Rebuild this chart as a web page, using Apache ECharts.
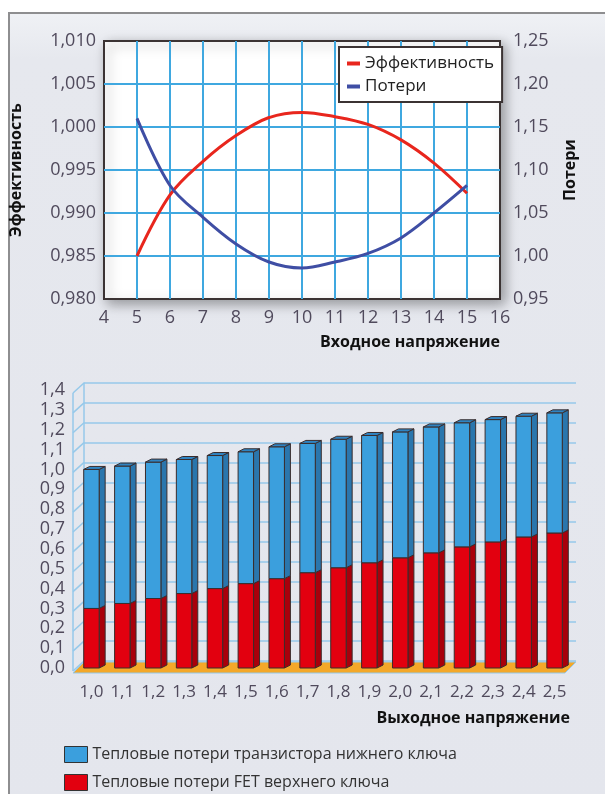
<!DOCTYPE html>
<html>
<head>
<meta charset="utf-8">
<script src="https://cdn.jsdelivr.net/npm/echarts@6/dist/echarts.min.js"></script>
<style>
  html, body { margin: 0; padding: 0; background: #fff; width: 605px; height: 794px; overflow: hidden; }
  #panel { position: absolute; left: 8px; top: 12px; width: 610px; height: 800px; box-sizing: border-box;
           border: 2px solid #8e8e90; background: linear-gradient(#eff1f5 0px, #e6e8ee 45px, #e4e6ed 100%); }
  #chart { position: absolute; left: 0; top: 0; width: 605px; height: 794px; }
</style>
</head>
<body>
<div id="panel"></div>
<div id="chart"></div>
<script>
// Upper chart: efficiency and losses versus input voltage
const inputVoltage = [5, 6, 7, 8, 9, 10, 11, 12, 13, 14, 15];
const efficiency   = [0.9850, 0.9921, 0.9960, 0.9990, 1.0011, 1.0017, 1.0012, 1.0003, 0.9985, 0.9958, 0.9923];
const losses       = [1.160, 1.082, 1.045, 1.014, 0.993, 0.986, 0.993, 1.003, 1.021, 1.050, 1.082];

// Lower chart: thermal losses of the two switches versus output voltage
const outputVoltage      = ['1,0', '1,1', '1,2', '1,3', '1,4', '1,5', '1,6', '1,7',
                            '1,8', '1,9', '2,0', '2,1', '2,2', '2,3', '2,4', '2,5'];
const highSideFetLoss    = [0.300, 0.325, 0.350, 0.375, 0.400, 0.425, 0.450, 0.480,
                            0.505, 0.530, 0.555, 0.580, 0.610, 0.635, 0.660, 0.680];
const lowSideLoss        = [0.700, 0.692, 0.687, 0.675, 0.670, 0.664, 0.664, 0.651,
                            0.647, 0.641, 0.634, 0.634, 0.625, 0.616, 0.608, 0.605];
const lossTicks          = [0, 0.1, 0.2, 0.3, 0.4, 0.5, 0.6, 0.7, 0.8, 0.9, 1.0, 1.1, 1.2, 1.3, 1.4];

const FONT = '"Open Sans", "Noto Sans", sans-serif';
const LABEL_COLOR = '#504a5c';
const GRID_BLUE = '#3fa8e0';
const WALL_BLUE = '#96c9ea';
const EDGE = '#3a2c2c';
const comma = (v, d) => v.toFixed(d).replace('.', ',');

// 3D depth of the bars and of the side wall
const BAR_DX = 6, BAR_DY = -3;
const WALL_DX = -11, WALL_DY = 10;

function makeBox(front, side, top, withTop) {
  return function (params, api) {
    const i = api.value(0);
    const pb = api.coord([i, api.value(1)]);
    const pt = api.coord([i, api.value(2)]);
    const w = api.size([1, 0])[0] * 0.5;
    const x0 = pb[0] - w / 2, x1 = pb[0] + w / 2;
    const children = [
      { type: 'polygon',
        shape: { points: [[x1, pt[1]], [x1 + BAR_DX, pt[1] + BAR_DY], [x1 + BAR_DX, pb[1] + BAR_DY], [x1, pb[1]]] },
        style: { fill: side, stroke: EDGE, lineWidth: 1 } },
      { type: 'rect', shape: { x: x0, y: pt[1], width: w, height: pb[1] - pt[1] },
        style: { fill: front, stroke: EDGE, lineWidth: 1 } }
    ];
    if (withTop) {
      children.push({ type: 'polygon',
        shape: { points: [[x0, pt[1]], [x0 + BAR_DX, pt[1] + BAR_DY], [x1 + BAR_DX, pt[1] + BAR_DY], [x1, pt[1]]] },
        style: { fill: top, stroke: EDGE, lineWidth: 1 } });
    }
    return { type: 'group', children };
  };
}

const redData = outputVoltage.map((_, i) => [i, 0, highSideFetLoss[i]]);
const blueData = outputVoltage.map((_, i) => [i, highSideFetLoss[i], highSideFetLoss[i] + lowSideLoss[i]]);

const chart = echarts.init(document.getElementById('chart'), null, { renderer: 'canvas' });

chart.setOption({
  backgroundColor: 'transparent',
  animation: false,
  textStyle: { fontFamily: FONT },
  legend: [
    { data: ['Эффективность', 'Потери'], orient: 'vertical', left: 339, top: 47,
      backgroundColor: '#fff', borderColor: '#3b3333', borderWidth: 2,
      padding: [6, 8, 5, 8], itemGap: 2, itemWidth: 13, itemHeight: 4, icon: 'rect',
      textStyle: { fontSize: 17, color: '#222', fontFamily: FONT, lineHeight: 21 } },
    { data: ['Тепловые потери транзистора нижнего ключа', 'Тепловые потери FET верхнего ключа'],
      orient: 'vertical', left: 64, top: 746, padding: 0, itemGap: 11, itemWidth: 23, itemHeight: 16, icon: 'rect',
      itemStyle: { borderColor: '#333', borderWidth: 1 },
      textStyle: { fontSize: 16, color: '#333', fontFamily: FONT, lineHeight: 17 } }
  ],
  grid: [
    { left: 100, right: 105, top: 41, bottom: 495, show: true, backgroundColor: '#fff',
      borderColor: '#3b3333', borderWidth: 2,
      shadowColor: 'rgba(0,0,0,0.35)', shadowBlur: 12, shadowOffsetX: 4, shadowOffsetY: 4 },
    { left: 76, right: 35, top: 390, bottom: 126 },
    { left: 84, right: 29, top: 383, bottom: 133 }
  ],
  xAxis: [
    { type: 'value', gridIndex: 0, min: 4, max: 16, interval: 1,
      axisLine: { show: false }, axisTick: { show: false },
      splitLine: { show: true, showMinLine: false, showMaxLine: false, lineStyle: { color: GRID_BLUE, width: 2 } },
      axisLabel: { fontSize: 18, color: LABEL_COLOR, margin: 10, fontFamily: FONT },
      name: 'Входное напряжение', nameLocation: 'end', nameGap: 0,
      nameTextStyle: { align: 'right', verticalAlign: 'top', padding: [35, 0, 0, 0],
                       fontSize: 16, fontWeight: 'bold', color: '#111', fontFamily: FONT } },
    { type: 'category', gridIndex: 1, data: outputVoltage,
      axisLine: { show: false }, axisTick: { show: false },
      axisLabel: { fontSize: 17, color: LABEL_COLOR, margin: 16, fontFamily: FONT, interval: 0 },
      name: 'Выходное напряжение', nameLocation: 'end', nameGap: 0,
      nameTextStyle: { align: 'right', verticalAlign: 'top', padding: [42, 0, 0, 0],
                       fontSize: 16, fontWeight: 'bold', color: '#111', fontFamily: FONT } },
    { type: 'value', gridIndex: 2, min: 0, max: 1, show: false }
  ],
  yAxis: [
    { type: 'value', gridIndex: 0, min: 0.98, max: 1.01, interval: 0.005,
      axisLine: { show: false }, axisTick: { show: false },
      splitLine: { show: true, showMinLine: false, showMaxLine: false, lineStyle: { color: GRID_BLUE, width: 2 } },
      axisLabel: { fontSize: 18, color: LABEL_COLOR, margin: 8, fontFamily: FONT, formatter: v => comma(v, 3) },
      name: 'Эффективность', nameLocation: 'middle', nameRotate: 90, nameGap: 80,
      nameTextStyle: { fontSize: 16, fontWeight: 'bold', color: '#111', fontFamily: FONT } },
    { type: 'value', gridIndex: 0, position: 'right', min: 0.95, max: 1.25, interval: 0.05,
      axisLine: { show: false }, axisTick: { show: false }, splitLine: { show: false },
      axisLabel: { fontSize: 18, color: LABEL_COLOR, margin: 13, fontFamily: FONT, formatter: v => comma(v, 2) },
      name: 'Потери', nameLocation: 'middle', nameRotate: 90, nameGap: 62,
      nameTextStyle: { fontSize: 16, fontWeight: 'bold', color: '#111', fontFamily: FONT } },
    { type: 'value', gridIndex: 1, min: 0, max: 1.4, interval: 0.1,
      axisLine: { show: false }, axisTick: { show: false }, splitLine: { show: false },
      axisLabel: { fontSize: 18, color: LABEL_COLOR, margin: 11, fontFamily: FONT, formatter: v => comma(v, 1) } },
    { type: 'value', gridIndex: 2, min: 0, max: 1.4, interval: 0.1,
      axisLine: { show: true, lineStyle: { color: WALL_BLUE, width: 1.5 } }, axisTick: { show: false },
      axisLabel: { show: false },
      splitLine: { show: true, lineStyle: { color: WALL_BLUE, width: 1.5 } } }
  ],
  series: [
    { name: 'Эффективность', type: 'line', xAxisIndex: 0, yAxisIndex: 0,
      data: inputVoltage.map((v, i) => [v, efficiency[i]]), smooth: 0.35, showSymbol: false,
      lineStyle: { color: '#e8261d', width: 3 }, itemStyle: { color: '#e8261d' }, z: 5 },
    { name: 'Потери', type: 'line', xAxisIndex: 0, yAxisIndex: 1,
      data: inputVoltage.map((v, i) => [v, losses[i]]), smooth: 0.35, showSymbol: false,
      lineStyle: { color: '#3f4ea4', width: 3 }, itemStyle: { color: '#3f4ea4' }, z: 5 },

    // side wall of the 3D box: depth lines at each tick, plus the front edge and the floor
    { type: 'custom', xAxisIndex: 2, yAxisIndex: 3, z: 1, silent: true,
      data: lossTicks.map(v => [0, v]),
      renderItem: function (params, api) {
        const p = api.coord([0, api.value(1)]);
        const children = [{ type: 'line',
          shape: { x1: p[0], y1: p[1], x2: p[0] + WALL_DX, y2: p[1] + WALL_DY },
          style: { stroke: WALL_BLUE, lineWidth: 1.5 } }];
        if (params.dataIndex === 0) {
          const bl = api.coord([0, 0]), br = api.coord([1, 0]), tl = api.coord([0, 1.4]);
          children.push({ type: 'line',
            shape: { x1: tl[0] + WALL_DX, y1: tl[1] + WALL_DY, x2: bl[0] + WALL_DX, y2: bl[1] + WALL_DY },
            style: { stroke: WALL_BLUE, lineWidth: 1.5 } });
          children.push({ type: 'polygon',
            shape: { points: [[bl[0], bl[1] + 1], [br[0], br[1] + 1],
                              [br[0] + WALL_DX, br[1] + WALL_DY + 2], [bl[0] + WALL_DX, bl[1] + WALL_DY + 2]] },
            style: { fill: '#f4a829', stroke: WALL_BLUE, lineWidth: 1 } });
        }
        return { type: 'group', children };
      } },

    { name: 'Тепловые потери FET верхнего ключа', type: 'custom', xAxisIndex: 1, yAxisIndex: 2, z: 3,
      data: redData, encode: { x: 0, y: [1, 2] },
      itemStyle: { color: '#e2000f' },
      renderItem: makeBox('#e2000f', '#a9000b', '#c4000d', false) },
    { name: 'Тепловые потери транзистора нижнего ключа', type: 'custom', xAxisIndex: 1, yAxisIndex: 2, z: 3,
      data: blueData, encode: { x: 0, y: [1, 2] },
      itemStyle: { color: '#3b9fdd' },
      renderItem: makeBox('#3b9fdd', '#2a76ad', '#2f84c2', true) }
  ]
});
</script>
</body>
</html>
